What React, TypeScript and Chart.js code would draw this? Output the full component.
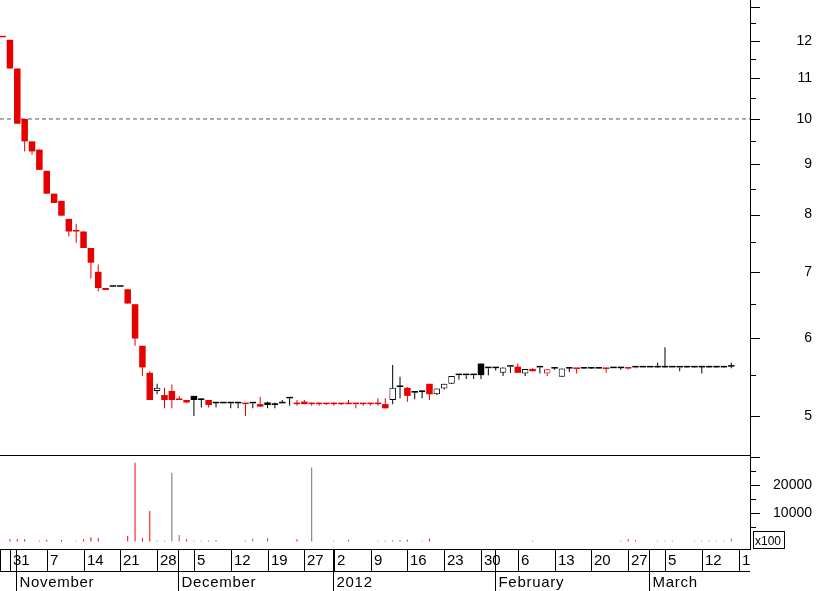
import { useEffect, useRef } from 'react';
import { Chart, registerables } from 'chart.js';

Chart.register(...registerables);

// ---- data -------------------------------------------------------------
const dates = [
  '2011-10-28', '2011-10-31',
  '2011-11-01', '2011-11-02', '2011-11-03', '2011-11-04', '2011-11-07', '2011-11-08', '2011-11-09', '2011-11-10', '2011-11-11',
  '2011-11-14', '2011-11-15', '2011-11-16', '2011-11-17', '2011-11-18', '2011-11-21', '2011-11-22', '2011-11-23', '2011-11-24',
  '2011-11-25', '2011-11-28', '2011-11-29', '2011-11-30',
  '2011-12-01', '2011-12-02', '2011-12-05', '2011-12-06', '2011-12-07', '2011-12-08', '2011-12-09', '2011-12-12', '2011-12-13',
  '2011-12-14', '2011-12-15', '2011-12-16', '2011-12-19', '2011-12-20', '2011-12-21', '2011-12-22', '2011-12-23', '2011-12-27',
  '2011-12-28', '2011-12-29', '2011-12-30',
  '2012-01-02', '2012-01-03', '2012-01-04', '2012-01-05', '2012-01-06', '2012-01-09', '2012-01-10', '2012-01-11', '2012-01-12',
  '2012-01-13', '2012-01-16', '2012-01-17', '2012-01-18', '2012-01-19', '2012-01-20', '2012-01-23', '2012-01-24', '2012-01-25',
  '2012-01-26', '2012-01-27', '2012-01-30', '2012-01-31',
  '2012-02-01', '2012-02-02', '2012-02-03', '2012-02-06', '2012-02-07', '2012-02-08', '2012-02-09', '2012-02-10', '2012-02-13',
  '2012-02-14', '2012-02-15', '2012-02-16', '2012-02-17', '2012-02-20', '2012-02-21', '2012-02-22', '2012-02-23', '2012-02-24',
  '2012-02-27', '2012-02-28', '2012-02-29',
  '2012-03-01', '2012-03-02', '2012-03-05', '2012-03-06', '2012-03-07', '2012-03-08', '2012-03-09', '2012-03-12', '2012-03-13',
  '2012-03-14', '2012-03-15', '2012-03-16',
];

const open = [
  12.10, 12.03, 11.25, 10.00, 9.49, 9.31, 8.86, 8.40, 8.26, 7.92,
  7.69, 7.69, 7.40, 7.00, 6.74, 6.76, 6.76, 6.72, 6.49, 5.89,
  5.53, 5.30, 5.25, 5.30, 5.19, 5.19, 5.24, 5.19, 5.19, 5.15,
  5.15, 5.15, 5.15, 5.14, 5.15, 5.14, 5.16, 5.15, 5.15, 5.21,
  5.14, 5.17, 5.14, 5.14, 5.14, 5.14, 5.14, 5.14, 5.14, 5.14,
  5.14, 5.14, 5.14, 5.19, 5.35, 5.34, 5.30, 5.285, 5.39, 5.26,
  5.33, 5.39, 5.50, 5.50, 5.50, 5.65, 5.59, 5.605, 5.53, 5.61,
  5.61, 5.52, 5.58, 5.60, 5.52, 5.60, 5.48, 5.60, 5.58, 5.60,
  5.60, 5.60, 5.58, 5.59, 5.60, 5.585, 5.60, 5.60, 5.60, 5.60,
  5.60, 5.60, 5.60, 5.62, 5.62, 5.62, 5.62, 5.62, 5.62, 5.61,
];
const high = [
  12.10, 12.03, 11.25, 10.00, 9.49, 9.31, 8.86, 8.40, 8.26, 7.92,
  7.83, 7.69, 7.40, 7.12, 6.74, 6.76, 6.76, 6.72, 6.49, 5.89,
  5.55, 5.39, 5.34, 5.38, 5.24, 5.19, 5.24, 5.21, 5.19, 5.15,
  5.15, 5.15, 5.15, 5.14, 5.15, 5.23, 5.17, 5.16, 5.19, 5.21,
  5.19, 5.19, 5.16, 5.16, 5.15, 5.16, 5.15, 5.19, 5.14, 5.15,
  5.14, 5.21, 5.21, 5.63, 5.48, 5.35, 5.30, 5.31, 5.39, 5.33,
  5.39, 5.49, 5.50, 5.50, 5.50, 5.65, 5.59, 5.605, 5.60, 5.61,
  5.65, 5.58, 5.59, 5.60, 5.575, 5.60, 5.585, 5.60, 5.58, 5.60,
  5.60, 5.60, 5.58, 5.59, 5.60, 5.585, 5.60, 5.60, 5.60, 5.66,
  5.87, 5.60, 5.60, 5.62, 5.62, 5.62, 5.62, 5.62, 5.62, 5.66,
];
const low = [
  12.10, 11.25, 9.89, 9.27, 9.20, 8.88, 8.40, 8.22, 7.98, 7.60,
  7.49, 7.40, 6.89, 6.69, 6.71, 6.76, 6.76, 6.50, 5.89, 5.49,
  5.19, 5.26, 5.09, 5.09, 5.19, 5.15, 5.00, 5.10, 5.10, 5.10,
  5.15, 5.09, 5.09, 5.00, 5.09, 5.11, 5.09, 5.09, 5.15, 5.12,
  5.12, 5.14, 5.12, 5.12, 5.13, 5.12, 5.13, 5.14, 5.09, 5.12,
  5.12, 5.12, 5.09, 5.14, 5.21, 5.17, 5.20, 5.21, 5.19, 5.25,
  5.32, 5.39, 5.44, 5.45, 5.45, 5.45, 5.50, 5.56, 5.49, 5.53,
  5.53, 5.49, 5.55, 5.52, 5.49, 5.57, 5.48, 5.54, 5.52, 5.585,
  5.585, 5.585, 5.53, 5.59, 5.57, 5.57, 5.59, 5.60, 5.60, 5.60,
  5.60, 5.60, 5.55, 5.60, 5.60, 5.52, 5.60, 5.60, 5.60, 5.59,
];
const close = [
  12.10, 11.25, 9.89, 9.49, 9.27, 8.88, 8.40, 8.22, 7.98, 7.69,
  7.69, 7.40, 7.15, 6.74, 6.71, 6.76, 6.76, 6.50, 5.99, 5.60,
  5.19, 5.34, 5.19, 5.19, 5.19, 5.16, 5.19, 5.21, 5.13, 5.15,
  5.15, 5.15, 5.15, 5.14, 5.15, 5.11, 5.13, 5.13, 5.15, 5.21,
  5.14, 5.14, 5.14, 5.14, 5.14, 5.14, 5.14, 5.14, 5.14, 5.14,
  5.14, 5.14, 5.09, 5.34, 5.35, 5.24, 5.28, 5.31, 5.26, 5.33,
  5.39, 5.49, 5.50, 5.50, 5.50, 5.50, 5.59, 5.59, 5.60, 5.61,
  5.53, 5.58, 5.55, 5.60, 5.575, 5.585, 5.585, 5.585, 5.58, 5.585,
  5.585, 5.585, 5.58, 5.59, 5.59, 5.585, 5.60, 5.60, 5.60, 5.60,
  5.60, 5.60, 5.60, 5.60, 5.60, 5.60, 5.60, 5.60, 5.60, 5.61,
];
// volume in units of 100 shares
const volume = [
  0, 780, 780, 780, 0, 280, 530, 0, 530, 0,
  280, 780, 1490, 1240, 0, 0, 0, 1950, 27900, 1240,
  10800, 280, 280, 24400, 2300, 780, 280, 280, 280, 530,
  0, 0, 0, 280, 1000, 0, 1240, 0, 0, 0,
  780, 0, 26200, 0, 0, 280, 0, 650, 0, 0,
  0, 280, 280, 400, 530, 650, 0, 280, 1000, 0,
  0, 0, 0, 0, 0, 0, 0, 0, 0, 0,
  0, 0, 280, 0, 0, 0, 0, 0, 0, 0,
  0, 0, 0, 0, 280, 780, 530, 0, 0, 280,
  280, 280, 0, 0, 280, 280, 280, 280, 280, 1000,
];
const priorClose = 12.15;
const refLevel = 10;

const priceMajorTicks = [5, 6, 7, 8, 9, 10, 11, 12, 13];
const priceMinorTicks = [5.5, 6.5, 7.5, 8.5, 9.5, 10.5, 11.5, 12.5];
const priceLabelled = [5, 6, 7, 8, 9, 10, 11, 12];
const volMajorTicks = [10000, 20000, 30000];
const volMinorTicks = [5000, 15000, 25000];
const volLabelled = [10000, 20000];
const volumeUnitLabel = 'x100';

const dayTickIdx = [1, 6, 11, 16, 21, 26, 31, 36, 41, 45, 50, 55, 60, 65, 70, 75, 80, 85, 90, 95, 100];
const dayTickLabels = ['31', '7', '14', '21', '28', '5', '12', '19', '27', '2', '9', '16', '23', '30', '6', '13', '20', '27', '5', '12', '19'];
const monthTickIdx = [2, 24, 45, 67, 88];
const monthLabels = ['November', 'December', '2012', 'February', 'March'];

// ---- view ranges -------------------------------------------------------
const X_MIN = -0.35;
const X_MAX = 101.55;
const PRICE_MIN = 4.554;
const PRICE_MAX = 13.2;
const VOL_MIN = -2660;
const VOL_MAX = 30320;

const RED = '#e60000';
const BLACK = '#000000';
const VOL_RED = '#ff0000';
const VOL_GRAY = '#707070';
const FONT = '"Liberation Sans", Arial, sans-serif';

function buildColors() {
  const candle: string[] = [];
  const vol: string[] = [];
  let prev = RED;
  for (let i = 0; i < close.length; i++) {
    const pc = i === 0 ? priorClose : close[i - 1];
    const c = close[i] < pc ? RED : close[i] > pc ? BLACK : prev;
    candle.push(c);
    vol.push(close[i] < pc ? VOL_RED : VOL_GRAY);
    prev = c;
  }
  return { candle, vol };
}

const decorPlugin = {
  id: 'decor',
  afterDraw(chart: any) {
    const { ctx, chartArea } = chart;
    const xs = chart.scales.x;
    const yp = chart.scales.y;
    const yv = chart.scales.yv;
    const L = chartArea.left;
    const R = chartArea.right;
    const B = chartArea.bottom;
    const H = chart.height;
    const seg = (x1: number, y1: number, x2: number, y2: number) => {
      ctx.beginPath();
      ctx.moveTo(x1, y1);
      ctx.lineTo(x2, y2);
      ctx.stroke();
    };
    ctx.save();
    ctx.strokeStyle = '#000';
    ctx.lineWidth = 1;

    // pane separator
    seg(L, yp.bottom - 0.5, R, yp.bottom - 0.5);

    // axis tick marks
    const ax = yp.left;
    priceMajorTicks.forEach((v) => {
      const y = Math.round(yp.getPixelForValue(v)) + 0.5;
      seg(ax, y, ax + 10, y);
    });
    priceMinorTicks.forEach((v) => {
      const y = Math.round(yp.getPixelForValue(v)) + 0.5;
      seg(ax, y, ax + 6, y);
    });
    volMajorTicks.forEach((v) => {
      const y = Math.round(yv.getPixelForValue(v)) + 0.5;
      seg(ax, y, ax + 10, y);
    });
    volMinorTicks.forEach((v) => {
      const y = Math.round(yv.getPixelForValue(v)) + 0.5;
      seg(ax, y, ax + 6, y);
    });

    // volume unit box
    ctx.strokeRect(ax + 3.5, B - 17.5, 31, 17);
    ctx.fillStyle = '#000';
    ctx.font = `12px ${FONT}`;
    ctx.textBaseline = 'alphabetic';
    ctx.textAlign = 'left';
    ctx.fillText(volumeUnitLabel, ax + 5, B - 4);

    // date strip
    const rowY = B + 22;
    seg(L, B + 0.5, R, B + 0.5);
    seg(L, rowY + 0.5, R, rowY + 0.5);
    seg(L + 0.5, B, L + 0.5, rowY);
    ctx.save();
    ctx.beginPath();
    ctx.rect(L, B, R - L, H - B);
    ctx.clip();
    ctx.font = `15px ${FONT}`;
    dayTickIdx.forEach((idx, k) => {
      const x = Math.round(xs.getPixelForValue(idx)) + 0.5;
      seg(x, B, x, rowY);
      ctx.fillText(dayTickLabels[k], x + 2.5, B + 16);
    });
    (ctx as any).letterSpacing = '0.7px';
    monthTickIdx.forEach((idx, k) => {
      const x = Math.round(xs.getPixelForValue(idx)) - 0.5;
      seg(x, B, x, H);
      ctx.fillText(monthLabels[k], x + 3, B + 38);
    });
    ctx.restore();
    ctx.restore();
  },
};

const noPad = (s: any) => {
  s.width = 62;
  s.paddingTop = 0;
  s.paddingBottom = 0;
};

export default function App() {
  const ref = useRef<HTMLCanvasElement>(null);

  useEffect(() => {
    if (!ref.current) return;
    const { candle, vol } = buildColors();
    const idx = close.map((_, i) => i);

    const bodyFill = idx.map((i) => (close[i] > open[i] ? '#ffffff' : candle[i]));
    const bodyBorderW = idx.map((i) => (close[i] > open[i] ? 1 : 0));

    const chart = new Chart(ref.current, {
      type: 'bar',
      data: {
        labels: dates,
        datasets: [
          {
            type: 'bar',
            label: 'body',
            data: idx.map((i) => ({ x: i, y: [open[i], close[i]] })) as any,
            yAxisID: 'y',
            backgroundColor: bodyFill,
            borderColor: candle,
            borderWidth: bodyBorderW,
            borderSkipped: false,
            inflateAmount: 0,
            barThickness: 6.5,
            minBarLength: 1.5,
            grouped: false,
            order: 0,
          } as any,
          {
            type: 'bar',
            label: 'wick',
            data: idx.map((i) => ({ x: i, y: [low[i], high[i]] })) as any,
            yAxisID: 'y',
            backgroundColor: candle,
            borderWidth: 0,
            inflateAmount: 0,
            barThickness: 1,
            grouped: false,
            order: 1,
          } as any,
          {
            type: 'line',
            label: 'ref',
            data: [
              { x: X_MIN, y: refLevel },
              { x: X_MAX, y: refLevel },
            ],
            yAxisID: 'y',
            borderColor: '#555555',
            borderWidth: 1,
            borderDash: [4, 3],
            pointRadius: 0,
            fill: false,
            order: 2,
          } as any,
          {
            type: 'bar',
            label: 'volume',
            data: idx.map((i) => ({ x: i, y: volume[i] })) as any,
            yAxisID: 'yv',
            backgroundColor: vol,
            borderWidth: 0,
            inflateAmount: 0,
            barThickness: 1,
            grouped: false,
            order: 3,
          } as any,
        ],
      },
      options: {
        responsive: false,
        maintainAspectRatio: false,
        animation: false,
        events: [],
        layout: { padding: { top: 0, left: 0, right: 5, bottom: 42 } },
        plugins: {
          legend: { display: false },
          tooltip: { enabled: false },
        },
        scales: {
          x: {
            type: 'linear',
            min: X_MIN,
            max: X_MAX,
            display: false,
            offset: false,
            grid: { offset: false },
          },
          y: {
            type: 'logarithmic',
            position: 'right',
            stack: 'panes',
            stackWeight: 456,
            min: PRICE_MIN,
            max: PRICE_MAX,
            beginAtZero: false,
            grid: { display: false, drawTicks: false },
            border: { display: true, color: '#000', width: 1 },
            ticks: {
              autoSkip: false,
              crossAlign: 'far',
              color: '#000',
              font: { family: FONT, size: 14 },
              callback: (v: any) => (priceLabelled.includes(Number(v)) ? String(v) : ''),
            },
            afterBuildTicks: (s: any) => {
              s.ticks = priceMajorTicks.map((v) => ({ value: v }));
            },
            afterFit: noPad,
          } as any,
          yv: {
            type: 'linear',
            position: 'right',
            stack: 'panes',
            stackWeight: 93,
            min: VOL_MIN,
            max: VOL_MAX,
            beginAtZero: false,
            grid: { display: false, drawTicks: false },
            border: { display: true, color: '#000', width: 1 },
            ticks: {
              autoSkip: false,
              crossAlign: 'far',
              color: '#000',
              font: { family: FONT, size: 14 },
              callback: (v: any) => (volLabelled.includes(Number(v)) ? String(v) : ''),
            },
            afterBuildTicks: (s: any) => {
              s.ticks = volMajorTicks.map((v) => ({ value: v }));
            },
            afterFit: noPad,
          } as any,
        },
      },
      plugins: [decorPlugin],
    });
    return () => chart.destroy();
  }, []);

  return (
    <div style={{ position: 'fixed', left: 0, top: 0, width: 817, height: 591, background: '#fff' }}>
      <canvas ref={ref} width={817} height={591} style={{ display: 'block', width: 817, height: 591 }} />
    </div>
  );
}
